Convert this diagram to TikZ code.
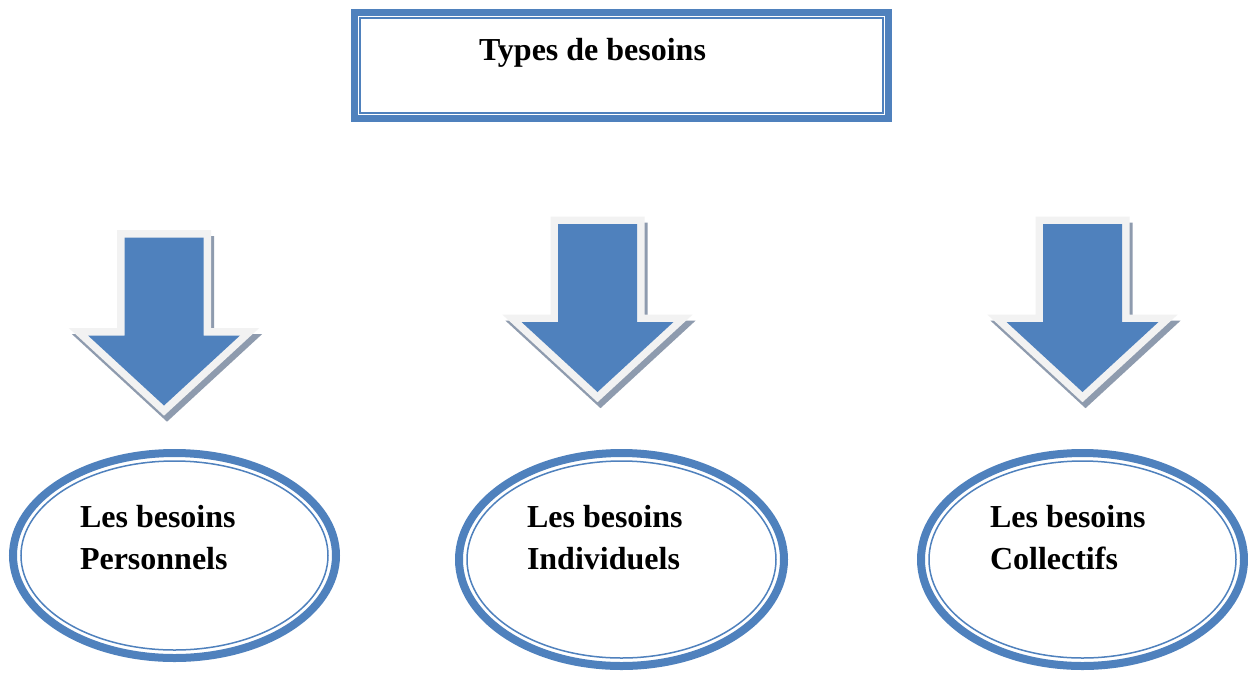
\documentclass[tikz,border=0pt]{standalone}
\usepackage{fontspec}
\setmainfont{Liberation Serif}
\usetikzlibrary{shapes.geometric}
\definecolor{obl}{HTML}{4F81BD}
\definecolor{arrw}{HTML}{F2F2F2}
\definecolor{shd}{HTML}{8E9BAE}
\begin{document}
\begin{tikzpicture}[x=1pt,y=-1pt,
  lbl/.style={font=\fontsize{32}{42}\selectfont\bfseries, inner sep=0pt, outer sep=0pt, align=left},
  ovalbox/.style={ellipse, draw=obl, line width=8pt, inner sep=0pt, outer sep=0pt},
  titlebox/.style={rectangle, draw=obl, line width=7pt, inner sep=0pt, outer sep=0pt, minimum width=534pt, minimum height=106pt},
  thinline/.style={draw=obl, line width=1.5pt},
  arrowpath/.style={line width=15pt, line join=miter},
  pics/downarrow/.style={code={
    \path[arrowpath, fill=shd, draw=shd, shift={(3,6)}]
      (-39.5,8) -- (39.5,8) -- (39.5,106) -- (76,106) -- (0,176) -- (-76,106) -- (-39.5,106) -- cycle;
    \path[arrowpath, draw=arrw]
      (-39.5,8) -- (39.5,8) -- (39.5,106) -- (76,106) -- (0,176) -- (-76,106) -- (-39.5,106) -- cycle;
    \path[fill=obl]
      (-39.5,8) -- (39.5,8) -- (39.5,106) -- (76,106) -- (0,176) -- (-76,106) -- (-39.5,106) -- cycle;
  }}
]
\fill[white] (0,0) rectangle (1248,673);
\useasboundingbox (0,0) rectangle (1248,673);

% title box
\node[titlebox] (tb) at (621.5,65.5) {};
\draw[thinline] ([shift={(5.5,5.5)}]tb.north west) rectangle ([shift={(-5.5,-5.5)}]tb.south east);
\node[lbl, anchor=base west] (ttl) at (479,60) {Types de besoins};

% arrows
\pic (a1) at (164,229.5) {downarrow};
\pic (a2) at (597.5,216) {downarrow};
\pic (a3) at (1082.5,216) {downarrow};

% ellipses
\node[ovalbox, minimum width=323pt, minimum height=205pt] (e1) at (174.5,555.5) {};
\draw[thinline] (e1.center) ellipse [x radius=153.5, y radius=94.5];
\node[ovalbox, minimum width=325pt, minimum height=213pt] (e2) at (621.5,559.5) {};
\draw[thinline] (e2.center) ellipse [x radius=154.5, y radius=98.5];
\node[ovalbox, minimum width=323pt, minimum height=213pt] (e3) at (1082.5,559.5) {};
\draw[thinline] (e3.center) ellipse [x radius=153.5, y radius=98.5];

\node[lbl, anchor=base west] (t1) at (80,569) {Les besoins\\Personnels};
\node[lbl, anchor=base west] (t2) at (527,569) {Les besoins\\Individuels};
\node[lbl, anchor=base west] (t3) at (990,569) {Les besoins\\Collectifs};
\end{tikzpicture}
\end{document}
